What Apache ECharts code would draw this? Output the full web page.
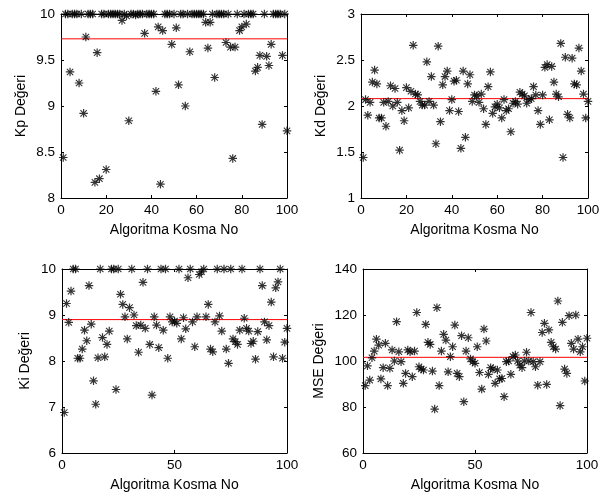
<!DOCTYPE html>
<html>
<head>
<meta charset="utf-8">
<script src="https://cdn.jsdelivr.net/npm/echarts@6/dist/echarts.min.js"></script>
<style>
  html, body { margin: 0; padding: 0; background: #fff; }
  #chart { width: 612px; height: 495px; }
</style>
</head>
<body>
<div id="chart"></div>
<script>
// degerler: her dizide 100 kosma (x = 1..100)
const kpValues = [
    8.44, 10, 10, 9.37, 10, 10, 10, 9.25, 10, 8.92,
    9.75, 10, 10, 10, 8.17, 9.58, 8.21, 10, 10, 8.31,
    10, 10, 10, 10, 10, 10, 9.93, 10, 9.98, 8.84,
    10, 10, 9.99, 10, 10, 10, 9.79, 10, 10, 10,
    10, 9.16, 9.86, 8.15, 9.82, 10, 10, 10, 9.67, 10,
    9.85, 9.23, 10, 10, 9.00, 10, 9.59, 10, 10, 10,
    10, 10, 10, 9.91, 9.63, 9.91, 10, 9.31, 10, 10,
    10, 10, 9.69, 10, 9.64, 8.43, 9.64, 10, 9.82, 9.86,
    10, 9.89, 10, 10, 10, 9.38, 9.42, 9.55, 8.80, 10,
    9.54, 9.44, 9.67, 10, 10, 10, 10, 9.55, 10, 8.73,
];
const kdValues = [
    1.44, 2.07, 1.90, 2.04, 2.26, 2.39, 2.24, 1.87, 1.87, 2.04,
    1.78, 2.05, 2.22, 2.00, 2.19, 2.04, 1.52, 1.95, 1.84, 2.20,
    1.98, 2.16, 2.66, 2.13, 2.12, 2.05, 2.01, 2.01, 2.48, 2.05,
    2.32, 2.01, 1.59, 2.65, 1.83, 2.23, 2.32, 2.38, 1.95, 2.07,
    2.27, 2.28, 1.94, 1.54, 2.38, 1.66, 2.24, 2.34, 2.05, 2.12,
    2.11, 2.04, 2.13, 1.97, 1.80, 2.21, 2.37, 1.92, 1.99, 2.02,
    1.98, 1.87, 2.07, 1.95, 1.97, 1.72, 2.03, 2.05, 2.02, 2.15,
    2.13, 2.11, 2.03, 2.07, 2.08, 2.21, 2.12, 1.95, 1.80, 2.12,
    2.42, 2.45, 1.85, 2.43, 2.26, 2.13, 2.10, 2.68, 1.44, 2.53,
    1.91, 1.87, 2.52, 2.24, 2.23, 2.63, 2.38, 2.13, 1.87, 2.05,
];
const kiValues = [
    6.88, 9.25, 8.84, 9.52, 10, 10, 8.06, 8.06, 8.26, 8.67,
    8.44, 9.64, 8.80, 7.57, 7.06, 8.07, 10, 8.51, 8.09, 8.36,
    8.65, 10, 10, 7.38, 10, 9.45, 9.23, 8.96, 8.48, 9.16,
    10, 9.00, 8.77, 8.19, 8.78, 9.71, 8.71, 10, 8.36, 7.26,
    8.96, 8.78, 8.29, 10, 8.67, 10, 8.06, 8.96, 8.85,
    8.87, 8.82, 10, 8.48, 8.94, 8.70, 9.81, 10, 8.85, 8.31,
    8.96, 9.88, 9.94, 10, 8.96, 9.23, 8.26, 8.20, 8.85, 10,
    8.98, 8.65, 10, 8.26, 7.95, 10, 8.48, 8.42, 8.36, 8.67,
    10, 8.93, 8.71, 8.65, 8.38, 8.43, 8.04, 8.64, 10, 9.64,
    8.85, 8.46, 8.77, 9.28, 8.09, 9.59, 9.72, 10, 8.06, 8.41, 8.71,
];
const mseValues = [
    89.3, 97.9, 91.7, 101.4, 104.3, 109.5, 106.9, 92.2, 97.1, 107.7,
    89.3, 96.8, 104.8, 100, 117.1, 104.0, 99.7, 90.3, 94.6, 104.8,
    104.0, 93.2, 104.3, 121.1, 97.5, 96.5, 96.1, 115.9, 108.1, 107.2,
    95.6, 79.1, 123.2, 89.3, 104.3, 111.6, 109.1, 95.3, 101.9, 106.2,
    115.6, 94.6, 93.2, 111.0, 82.3, 104.3, 110.1, 100.9, 99.7,
    99.0, 106.2, 95.0, 87.8, 113.9, 108.7, 94.2, 97.1, 96.5, 90.3,
    96.1, 92.2, 92.4, 84.5, 99.7, 100, 94.2, 101.9, 102.6, 100,
    98.2, 97.1, 100, 103.8, 100, 121.1, 99.7, 97.5, 89.5, 99.7,
    112.4, 116.4, 89.8, 113.5, 108.1, 106.2, 105.2, 126.1, 80.6, 116.8,
    96.5, 94.6, 119.7, 107.7, 105.2, 120, 109.5, 104.0, 106.2, 91.3, 109.9,
];
// kirmizi ortalama cizgileri
const meanLines = [9.73, 2.08, 8.90, 101.6];
const yNames = ['Kp Değeri', 'Kd Değeri', 'Ki Değeri', 'MSE Değeri'];
const xName = 'Algoritma Kosma No';
const yRanges = [[8, 10, 0.5], [1, 3, 0.5], [6, 10, 1], [60, 140, 20]];
const xIntervals = [20, 20, 50, 50];

const FONT = 'Liberation Sans, Arial, sans-serif';
const grids = [
    { left: 61, top: 14, width: 226, height: 184 },
    { left: 361, top: 14, width: 227, height: 184 },
    { left: 62, top: 269, width: 225, height: 184 },
    { left: 363, top: 269, width: 224, height: 184 },
];
const yNameGaps = [33, 33, 30, 37];

// yildiz isareti (MATLAB '*')
const STAR = 'path://M0 8.6L20 8.6L20 11.4L0 11.4Z M8.6 0L11.4 0L11.4 20L8.6 20Z M3.4 1.6L18.4 16.6L16.6 18.4L1.6 3.4Z M16.6 1.6L18.4 3.4L3.4 18.4L1.6 16.6Z';

const allValues = [kpValues, kdValues, kiValues, mseValues];

const lineStyle = { color: '#000', width: 1 };
const xAxes = [];
const yAxes = [];
const series = [];
grids.forEach((g, i) => {
    const xBase = {
        gridIndex: i,
        type: 'value',
        min: 0,
        max: 100,
        interval: xIntervals[i],
        splitLine: { show: false },
        axisLine: { show: true, onZero: false, lineStyle },
        axisTick: { show: true, inside: true, length: 3, lineStyle },
    };
    xAxes.push({
        ...xBase,
        position: 'bottom',
        name: xName,
        nameLocation: 'middle',
        nameGap: 25,
        nameTextStyle: { fontFamily: FONT, fontSize: 14, color: '#000' },
        axisLabel: { fontFamily: FONT, fontSize: 13.5, color: '#000', margin: 5 },
    });
    xAxes.push({ ...xBase, position: 'top', axisLabel: { show: false } });

    const [ymin, ymax, yint] = yRanges[i];
    const yBase = {
        gridIndex: i,
        type: 'value',
        min: ymin,
        max: ymax,
        interval: yint,
        splitLine: { show: false },
        axisLine: { show: true, onZero: false, lineStyle },
        axisTick: { show: true, inside: true, length: 3, lineStyle },
    };
    yAxes.push({
        ...yBase,
        position: 'left',
        name: yNames[i],
        nameLocation: 'middle',
        nameGap: yNameGaps[i],
        nameTextStyle: { fontFamily: FONT, fontSize: 14, color: '#000' },
        axisLabel: { fontFamily: FONT, fontSize: 13.5, color: '#000', margin: 6 },
    });
    yAxes.push({ ...yBase, position: 'right', axisLabel: { show: false } });

    // veri noktalari
    series.push({
        type: 'scatter',
        xAxisIndex: i * 2,
        yAxisIndex: i * 2,
        symbol: STAR,
        symbolSize: 8.5,
        itemStyle: { color: '#000' },
        data: allValues[i].map((v, k) => [k + 1, v]),
        z: 3,
    });
    // ortalama cizgisi
    series.push({
        type: 'line',
        xAxisIndex: i * 2,
        yAxisIndex: i * 2,
        showSymbol: false,
        symbol: 'none',
        silent: true,
        lineStyle: { color: '#ff0000', width: 1 },
        itemStyle: { color: '#ff0000' },
        data: [[0, meanLines[i]], [100, meanLines[i]]],
        z: 2,
    });
});

const chart = echarts.init(document.getElementById('chart'));
chart.setOption({
    animation: false,
    backgroundColor: '#fff',
    grid: grids.map((g) => ({ ...g, containLabel: false })),
    xAxis: xAxes,
    yAxis: yAxes,
    series,
});
</script>
</body>
</html>
